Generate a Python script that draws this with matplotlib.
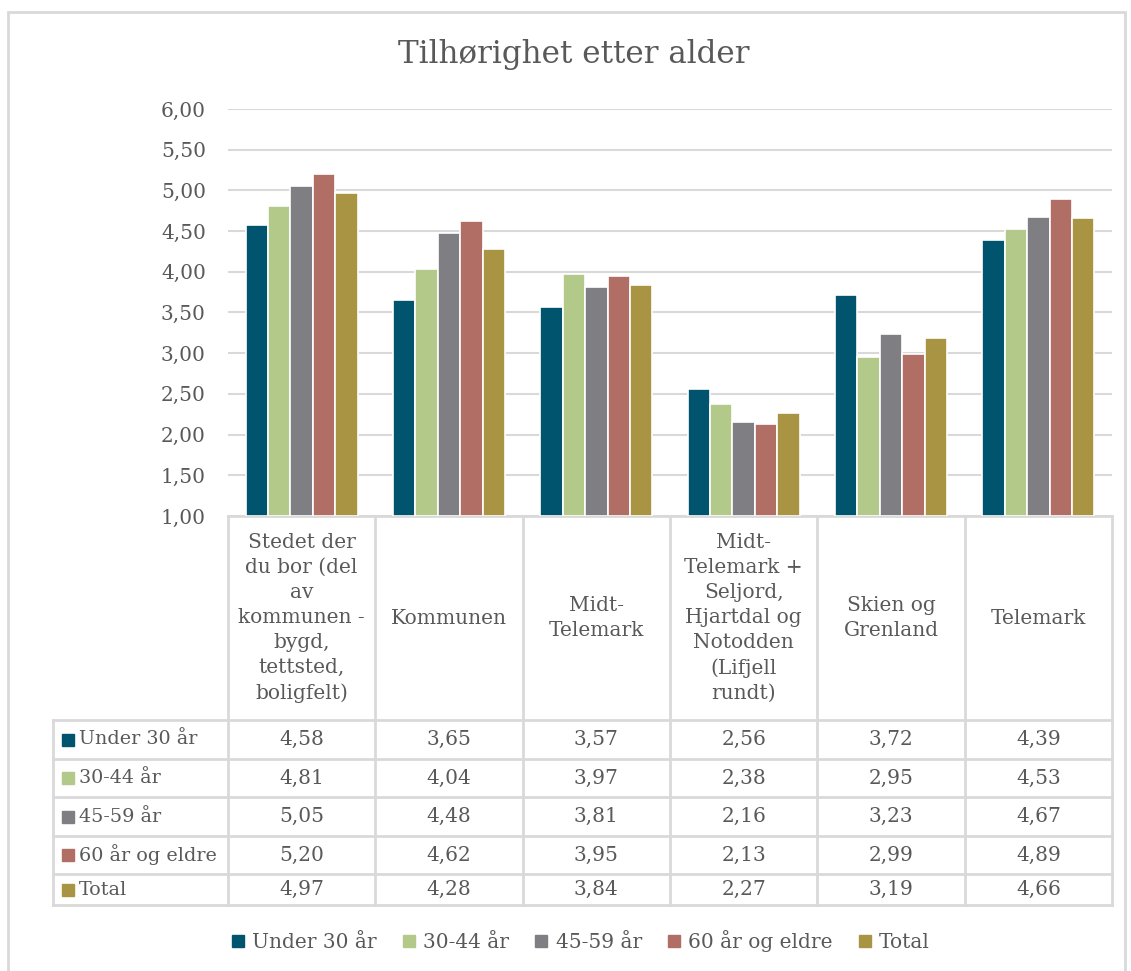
import matplotlib
matplotlib.use("Agg")
import matplotlib.pyplot as plt
import matplotlib.transforms as mtransforms
from matplotlib.ticker import FuncFormatter, MultipleLocator
from matplotlib.patches import Rectangle
import numpy as np

# data
categories = ["Stedet der\ndu bor (del\nav\nkommunen -\nbygd,\ntettsted,\nboligfelt)",
              "Kommunen",
              "Midt-\nTelemark",
              "Midt-\nTelemark +\nSeljord,\nHjartdal og\nNotodden\n(Lifjell\nrundt)",
              "Skien og\nGrenland",
              "Telemark"]
series_names = ["Under 30 år", "30-44 år", "45-59 år", "60 år og eldre", "Total"]
under_30 = [4.58, 3.65, 3.57, 2.56, 3.72, 4.39]
age_30_44 = [4.81, 4.04, 3.97, 2.38, 2.95, 4.53]
age_45_59 = [5.05, 4.48, 3.81, 2.16, 3.23, 4.67]
age_60_plus = [5.20, 4.62, 3.95, 2.13, 2.99, 4.89]
total = [4.97, 4.28, 3.84, 2.27, 3.19, 4.66]
series = [under_30, age_30_44, age_45_59, age_60_plus, total]
colors = ["#00546E", "#B3C98A", "#7F7F83", "#B06E64", "#A89443"]

W, H = 1131, 971
txt = "#595959"
grid = "#D9D9D9"
fs = 14.5
plt.rcParams['font.family'] = ['DejaVu Serif']

def fx(x):
    return x / W

def fy(y):
    return 1 - y / H

fig = plt.figure(figsize=(W / 100, H / 100), dpi=100)

# outer chart border
fig.patches.append(Rectangle((fx(8), fy(1000)), fx(1125) - fx(8), fy(12) - fy(1000),
                             transform=fig.transFigure, fill=False, edgecolor=grid, lw=2))

ax_l, ax_r, ax_t, ax_b = 228, 1112, 109, 516
ax = fig.add_axes([fx(ax_l), fy(ax_b), fx(ax_r) - fx(ax_l), fy(ax_t) - fy(ax_b)])

x = np.arange(len(categories))
bw = 0.152
for j, (vals, c) in enumerate(zip(series, colors)):
    ax.bar(x + (j - 2) * bw, np.array(vals) - 1.0, bottom=1.0, width=bw,
           color=c, edgecolor="white", linewidth=1.2, zorder=3)

ax.set_xlim(-0.5, len(categories) - 0.5)
ax.set_ylim(1.0, 6.0)
ax.yaxis.set_major_locator(MultipleLocator(0.5))
ax.yaxis.set_major_formatter(FuncFormatter(lambda v, p: f"{v:.2f}".replace(".", ",")))
ax.grid(axis="y", color=grid, lw=1.5, zorder=0)
for s in ax.spines.values():
    s.set_visible(False)
ax.set_xticks([])
ax.tick_params(axis="y", length=0, labelsize=fs, labelcolor=txt, pad=16)

fig.text(fx(574), fy(55), "Tilhørighet etter alder", ha="center", va="center",
         fontsize=22.3, color=txt)

# data table below the plot
bl = mtransforms.blended_transform_factory(ax.transData, fig.transFigure)
row_y = [516, 720, 759, 797, 836, 874, 905]
tab_left = 53
tab_right = x[-1] + 0.5

# vertical column borders
for i in range(len(categories) + 1):
    ax.add_line(plt.Line2D([i - 0.5, i - 0.5], [fy(row_y[0]), fy(row_y[-1])],
                           transform=bl, color=grid, lw=2, clip_on=False))
# horizontal top line of header
ax.add_line(plt.Line2D([-0.5, tab_right], [fy(516), fy(516)], transform=bl,
                       color=grid, lw=2, clip_on=False))
# left column border
fig.add_artist(plt.Line2D([fx(tab_left), fx(tab_left)], [fy(row_y[1]), fy(row_y[-1])],
                          transform=fig.transFigure, color=grid, lw=2))
# data row lines
left_data = ax.transData.inverted().transform(fig.transFigure.transform((fx(tab_left), 0)))[0]
for yy in row_y[1:]:
    ax.add_line(plt.Line2D([left_data, tab_right], [fy(yy), fy(yy)], transform=bl,
                           color=grid, lw=2, clip_on=False))

# header texts
for i, cat in enumerate(categories):
    ax.text(i, fy((row_y[0] + row_y[1]) / 2), cat, transform=bl, ha="center", va="center",
            fontsize=fs, color=txt, linespacing=1.4)

# value rows
for r, (name, vals, c) in enumerate(zip(series_names, series, colors)):
    yc = fy((row_y[r + 1] + row_y[r + 2]) / 2)
    fig.patches.append(Rectangle((fx(62), yc - 6 / H), 12 / W, 12 / H,
                                 transform=fig.transFigure, color=c))
    fig.text(fx(79), yc, name, ha="left", va="center", fontsize=13.8, color=txt)
    for i, v in enumerate(vals):
        ax.text(i, yc, f"{v:.2f}".replace(".", ","), transform=bl, ha="center",
                va="center", fontsize=fs, color=txt)

# legend at the bottom
handles = [plt.Line2D([], [], marker="s", linestyle="none", markersize=9,
                      markerfacecolor=c, markeredgecolor=c) for c in colors]
fig.legend(handles, series_names, loc="center", bbox_to_anchor=(fx(580), fy(941)),
           ncol=5, frameon=False, fontsize=fs, labelcolor=txt, handlelength=0.8,
           handletextpad=0.3, columnspacing=1.2)

fig.savefig("out.png", dpi=100)
